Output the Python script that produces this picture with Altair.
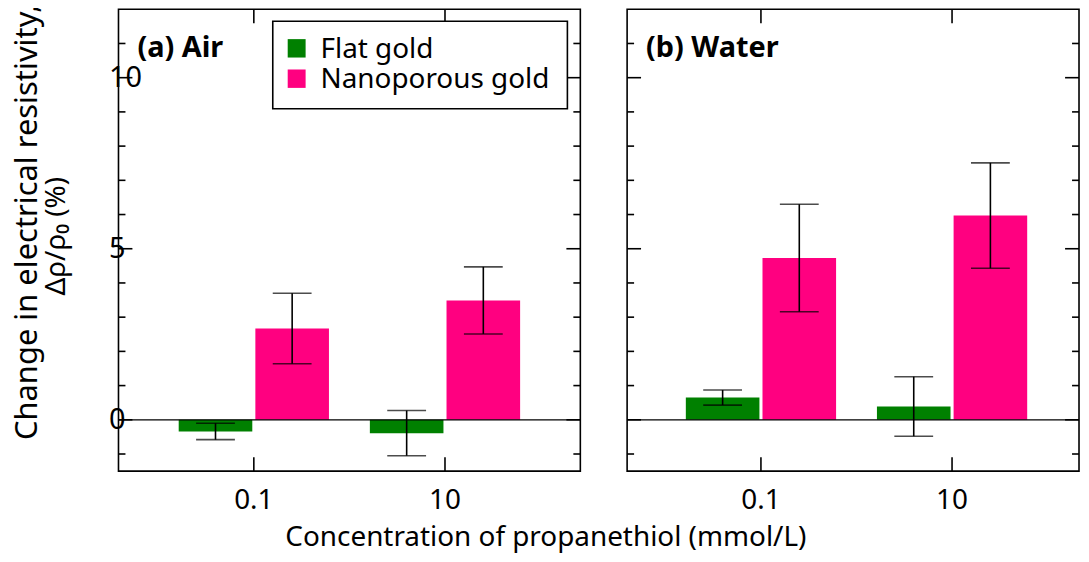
import altair as alt
import pandas as pd

# ---- data ----
concentrations = ["0.1", "10"]
series_names = ["Flat gold", "Nanoporous gold"]
series_colors = ["#008000", "#FF0080"]

air_flat = [-0.34, -0.39]
air_flat_err = [0.24, 0.66]
air_nano = [2.67, 3.49]
air_nano_err = [1.03, 0.98]

water_flat = [0.65, 0.39]
water_flat_err = [0.22, 0.87]
water_nano = [4.73, 5.97]
water_nano_err = [1.57, 1.54]

major_ticks = [0, 5, 10]
minor_ticks = [-1, 1, 2, 3, 4, 6, 7, 8, 9, 11]
y_domain = [-1.5, 12]

panel_labels = ["(a) Air", "(b) Water"]
x_title = "Concentration of propanethiol (mmol/L)"
y_title_1 = "Change in electrical resistivity,"
y_title_2 = "Δρ/ρ₀ (%)"

FONT = "Noto Sans"
H = 464


def table(flat, flat_err, nano, nano_err):
    rows = []
    for i, c in enumerate(concentrations):
        for s, v, e in ((series_names[0], flat[i], flat_err[i]), (series_names[1], nano[i], nano_err[i])):
            rows.append({"conc": c, "series": s, "value": v, "lo": v - e, "hi": v + e})
    return pd.DataFrame(rows)


def panel(df, label, first, W, pad_outer, align):
    yscale = alt.Scale(domain=y_domain, nice=False, zero=False)
    xscale = alt.Scale(paddingInner=0.214, paddingOuter=pad_outer, align=align)
    xaxis = alt.Axis(title=None, ticks=False, domain=False, grid=False, labelAngle=0, labelFontSize=28,
                     labelFont=FONT, labelColor="black", labelPadding=16)
    if first:
        yaxis = alt.Axis(values=major_ticks, ticks=False, domain=False, grid=False, title=None,
                         labelAlign="left", labelPadding=10, labelFontSize=29, labelFont=FONT,
                         labelColor="black")
    else:
        yaxis = alt.Axis(values=major_ticks, ticks=False, domain=False, grid=False, title=None,
                         labels=False)
    X = alt.X("conc:N", sort=concentrations, scale=xscale, axis=xaxis)
    XO = alt.XOffset("series:N", sort=series_names, scale=alt.Scale(paddingInner=0.04))

    def Y(field):
        return alt.Y(field, scale=yscale, axis=yaxis)

    base = alt.Chart(df)
    bars = base.mark_bar().encode(
        x=X, xOffset=XO,
        y=Y("value:Q"),
        color=alt.Color("series:N", scale=alt.Scale(domain=series_names, range=series_colors), legend=None),
    )
    err = base.mark_rule(color="black", strokeWidth=1.6).encode(
        x=X, xOffset=XO, y=Y("lo:Q"), y2="hi:Q")
    cap_lo = base.mark_tick(color="black", thickness=1.6, size=39, orient="horizontal").encode(
        x=X, xOffset=XO, y=Y("lo:Q"))
    cap_hi = base.mark_tick(color="black", thickness=1.6, size=39, orient="horizontal").encode(
        x=X, xOffset=XO, y=Y("hi:Q"))
    zero = alt.Chart(pd.DataFrame({"z": [0]})).mark_rule(color="black", strokeWidth=1.3).encode(
        y=Y("z:Q"))

    maj = alt.Chart(pd.DataFrame({"t": major_ticks}))
    mnr = alt.Chart(pd.DataFrame({"t": minor_ticks}))
    tick_layers = []
    for src, ln in ((maj, 14), (mnr, 7)):
        tick_layers.append(src.mark_rule(color="black", strokeWidth=1.6).encode(
            y=Y("t:Q"), x=alt.value(0), x2=alt.value(ln)))
        tick_layers.append(src.mark_rule(color="black", strokeWidth=1.6).encode(
            y=Y("t:Q"), x=alt.value(W - ln), x2=alt.value(W)))
    cats = alt.Chart(pd.DataFrame({"conc": concentrations}))
    tick_layers.append(cats.mark_rule(color="black", strokeWidth=1.6).encode(
        x=X, y=alt.value(0), y2=alt.value(14)))
    tick_layers.append(cats.mark_rule(color="black", strokeWidth=1.6).encode(
        x=X, y=alt.value(H - 14), y2=alt.value(H)))

    lab = alt.Chart(pd.DataFrame({"t": [label]})).mark_text(
        font=FONT, fontSize=29, fontWeight="bold", align="left", baseline="alphabetic", color="black"
    ).encode(text="t:N", x=alt.value(19), y=alt.value(48))

    layers = [bars, zero, err, cap_lo, cap_hi] + tick_layers + [lab]

    if first:
        leg_box = alt.Chart(pd.DataFrame({"a": [0]})).mark_rect(
            fill="white", stroke="black", strokeWidth=1.6).encode(
            x=alt.value(155), x2=alt.value(451), y=alt.value(12), y2=alt.value(100))
        layers.append(leg_box)
        for i, (name, col) in enumerate(zip(series_names, series_colors)):
            y0 = 30 + i * 30.5
            sw = alt.Chart(pd.DataFrame({"s": [name]})).mark_rect(color=col).encode(
                x=alt.value(170), x2=alt.value(188), y=alt.value(y0), y2=alt.value(y0 + 18.5))
            tx = alt.Chart(pd.DataFrame({"s": [name]})).mark_text(
                font=FONT, fontSize=28, align="left", baseline="alphabetic", color="black").encode(
                text="s:N", x=alt.value(203), y=alt.value(y0 + 18.5))
            layers += [sw, tx]
        yt1 = alt.Chart(pd.DataFrame({"s": [y_title_1]})).mark_text(
            font=FONT, fontSize=31, angle=270, align="center", baseline="middle", color="black").encode(
            text="s:N", x=alt.value(-91), y=alt.value(214))
        yt2 = alt.Chart(pd.DataFrame({"s": [y_title_2]})).mark_text(
            font=FONT, fontSize=28, angle=270, align="center", baseline="middle", color="black").encode(
            text="s:N", x=alt.value(-62), y=alt.value(228))
        layers += [yt1, yt2]

    return alt.layer(*layers).properties(width=W, height=H)


left = panel(table(air_flat, air_flat_err, air_nano, air_nano_err), panel_labels[0], True,
             464, 0.315, 0.5)
right = panel(table(water_flat, water_flat_err, water_nano, water_nano_err), panel_labels[1], False,
              454, 0.2893, 0.531)

chart = alt.hconcat(left, right, spacing=43).properties(
    title=alt.TitleParams(x_title, orient="bottom", anchor="middle", fontSize=28, font=FONT,
                          fontWeight="normal", color="black", offset=8),
    padding={"left": 3, "top": -6, "right": 0, "bottom": 0},
).configure_view(stroke="black", strokeWidth=1.6)

chart.save("out.html", embed_options={"renderer": "svg", "actions": False})
